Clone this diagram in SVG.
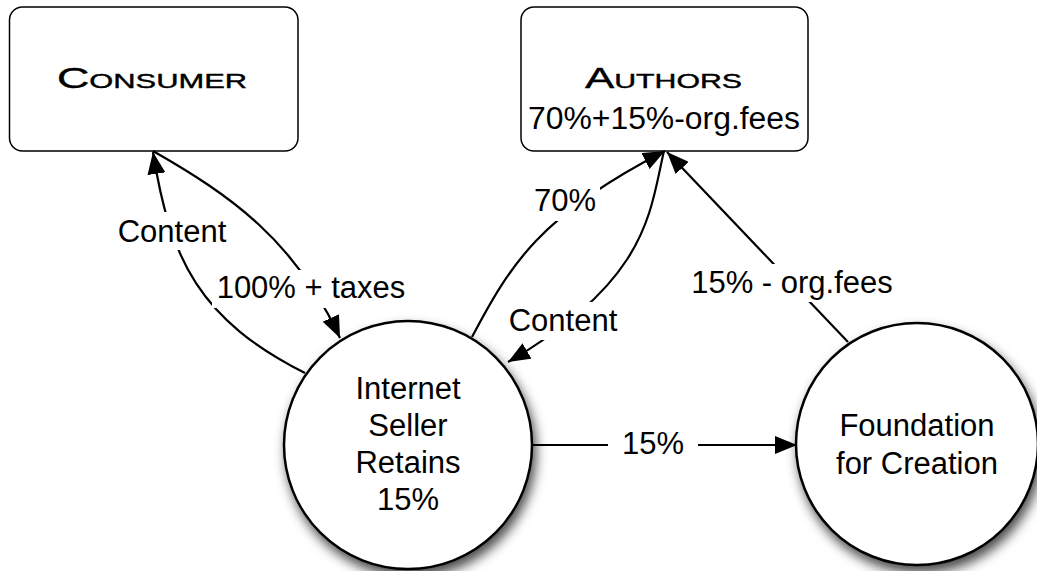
<svg xmlns="http://www.w3.org/2000/svg" width="1037" height="571" viewBox="0 0 1037 571">
<style>
.box{fill:#fff;stroke:#000;stroke-width:1.5}
.circ{fill:#fff;stroke:#000;stroke-width:2.5}
.title{font-family:"Liberation Sans",Arial,sans-serif;font-variant:small-caps;font-size:29px;fill:#000;stroke:#000;stroke-width:0.4}
.t{font-family:"Liberation Sans",Arial,sans-serif;font-size:31px;fill:#000;text-anchor:middle}
.edge{fill:none;stroke:#000;stroke-width:2.2}
.lbg{fill:#fff}
</style>
<defs>
<marker id="arr" markerUnits="userSpaceOnUse" markerWidth="24" markerHeight="18" refX="22" refY="9" orient="auto">
<path d="M0,0 L22,9 L0,18 Z" fill="#000"/>
</marker>
<filter id="sh" x="-20%" y="-20%" width="140%" height="150%">
<feDropShadow dx="3" dy="7" stdDeviation="6" flood-color="#000" flood-opacity="0.7"/>
</filter>
</defs>

<g id="consumer">
<rect class="box" x="9.5" y="7" width="288.5" height="144" rx="13"/>
<text class="title" x="57" y="88" textLength="190" lengthAdjust="spacingAndGlyphs">Consumer</text>
</g>

<g id="authors">
<rect class="box" x="521" y="7" width="287" height="144" rx="13"/>
<text class="title" x="585" y="88" textLength="157" lengthAdjust="spacingAndGlyphs">Authors</text>
<text class="t" x="664" y="129" textLength="272" lengthAdjust="spacingAndGlyphs">70%+15%-org.fees</text>
</g>

<g id="seller">
<circle class="circ" cx="408" cy="445" r="124" filter="url(#sh)"/>
<text class="t" x="408" y="399">Internet</text>
<text class="t" x="408" y="436">Seller</text>
<text class="t" x="408" y="473">Retains</text>
<text class="t" x="408" y="510">15%</text>
</g>

<g id="foundation">
<circle class="circ" cx="917" cy="444" r="121" filter="url(#sh)"/>
<text class="t" x="917" y="436">Foundation</text>
<text class="t" x="917" y="474">for Creation</text>
</g>

<g id="connectors">
<path class="edge" d="M305,373 C200,320 170,260 153,152" marker-end="url(#arr)"/>
<path class="edge" d="M153,151 C230,195 295,240 340,338" marker-end="url(#arr)"/>
<path class="edge" d="M472,337 C510,265 540,215 665,151" marker-end="url(#arr)"/>
<path class="edge" d="M664,151 C650,210 650,280 508,362" marker-end="url(#arr)"/>
<path class="edge" d="M848,342 L667,152" marker-end="url(#arr)"/>
<path class="edge" d="M533,445 L797,445" marker-end="url(#arr)"/>

<rect class="lbg" x="114" y="212" width="117" height="38"/>
<text class="t" x="172" y="242">Content</text>
<rect class="lbg" x="212" y="270" width="198" height="38"/>
<text class="t" x="311" y="298">100% + taxes</text>
<rect class="lbg" x="530" y="183" width="70" height="38"/>
<text class="t" x="565" y="211">70%</text>
<rect class="lbg" x="503" y="302" width="120" height="38"/>
<text class="t" x="563" y="331">Content</text>
<rect class="lbg" x="684" y="264" width="214" height="38"/>
<text class="t" x="792" y="293">15% - org.fees</text>
<rect class="lbg" x="608" y="425" width="90" height="38"/>
<text class="t" x="653" y="454">15%</text>
</g>
</svg>
